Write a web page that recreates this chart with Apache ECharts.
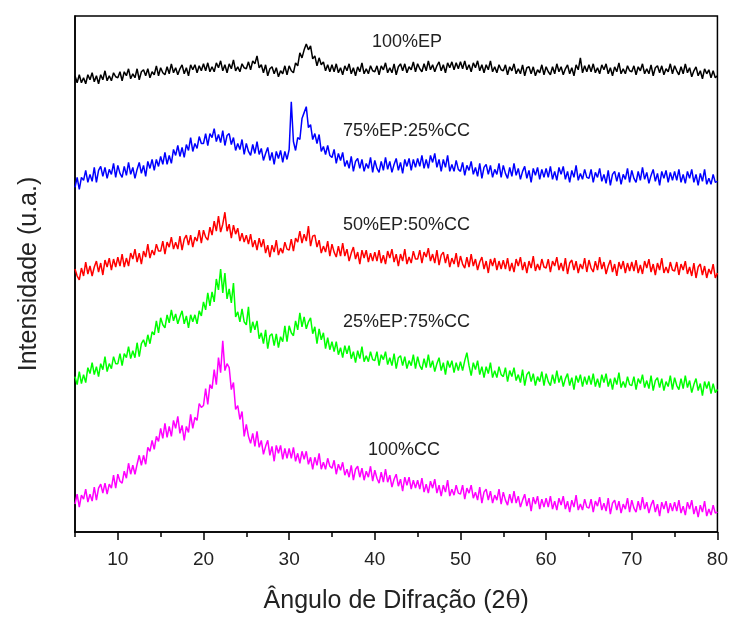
<!DOCTYPE html>
<html>
<head>
<meta charset="utf-8">
<script src="https://cdn.jsdelivr.net/npm/echarts@6/dist/echarts.min.js"></script>
<style>
  html, body { margin: 0; padding: 0; background: #fff; }
  #chart { width: 731px; height: 619px; }
</style>
</head>
<body>
<div id="chart"></div>
<script>
// 2θ from 5° to 80°, one reading every 0.25°
const angleStart = 5;
const angleStep = 0.25;

const majorTicks = [10, 20, 30, 40, 50, 60, 70, 80];
const minorTicks = [5, 15, 25, 35, 45, 55, 65, 75];

const seriesNames = ['100%EP', '75%EP:25%CC', '50%EP:50%CC', '25%EP:75%CC', '100%CC'];
const seriesColors = ['#000000', '#0000ff', '#ff0000', '#00ff00', '#ff00ff'];
// vertical shift of each stacked pattern
const curveOffsets = [450, 345, 255, 140, 25];

const ep100 = [
  8,1,9,1,6,0,9,4,11,2,8,0,9,4,13,3,8,3,11,7,
  6,12,3,12,8,15,5,10,6,15,4,12,14,8,15,6,12,9,18,8,
  16,11,9,17,10,20,11,16,9,15,19,10,16,8,19,14,19,11,18,13,
  20,13,21,12,17,12,21,16,23,13,19,11,20,15,24,13,17,12,20,16,
  15,22,14,23,20,28,16,19,11,19,8,15,17,10,16,7,13,10,18,9,
  18,13,11,21,18,31,26,34,40,34,38,25,28,18,26,19,22,13,19,12,
  19,12,20,11,16,9,18,13,20,10,16,8,17,12,21,10,15,10,18,13,
  12,18,9,18,14,21,11,16,11,20,9,17,20,13,20,11,17,14,22,12,
  20,15,12,20,13,23,14,19,12,18,22,13,19,11,21,16,22,14,21,15,
  22,15,23,14,19,12,21,16,23,13,19,11,19,14,23,12,17,11,19,14,
  13,19,9,17,13,20,10,15,10,19,8,16,17,10,17,8,14,11,19,9,
  17,12,9,17,10,20,12,17,9,15,19,10,16,8,19,14,26,11,18,12,
  19,12,20,11,16,10,19,14,20,10,16,8,17,12,21,10,15,10,18,13,
  12,18,9,17,13,20,10,15,10,19,8,16,18,11,18,9,15,12,20,10,
  18,13,9,17,10,20,11,16,7,13,17,8,13,5,15,10,14,6,13,6,
  8
];

const ep75cc25 = [
  1,11,-1,11,8,18,6,14,7,21,6,18,22,12,21,10,19,14,25,11,
  23,15,11,22,13,26,14,21,10,19,26,15,23,12,27,20,29,18,29,22,
  32,24,36,24,33,25,39,33,43,32,41,31,44,38,51,37,45,40,52,45,
  45,55,43,55,51,60,47,54,46,58,43,53,55,44,51,38,45,39,49,34,
  45,37,33,44,35,47,34,40,28,35,41,28,36,24,37,30,38,26,37,29,
  39,87,47,38,51,49,70,76,82,61,64,49,55,45,54,37,42,34,43,33,
  31,39,25,35,28,36,22,28,20,32,17,27,30,20,29,17,25,20,31,16,
  28,20,16,27,18,31,19,27,16,24,30,18,26,15,29,22,30,18,29,21,
  30,22,33,20,29,20,33,26,35,21,29,17,29,21,33,17,24,17,28,19,
  17,26,13,23,18,27,14,21,12,25,10,21,24,14,23,11,19,14,25,11,
  23,15,10,21,12,25,13,20,9,17,22,10,18,6,20,13,21,9,19,11,
  20,11,22,9,17,8,21,14,22,9,17,6,18,11,23,8,15,9,19,11,
  10,19,6,16,11,20,7,14,5,18,3,14,17,7,16,4,14,9,20,6,
  18,10,6,17,8,21,9,16,5,13,19,7,15,3,17,10,18,6,16,8,
  17,8,19,6,14,5,17,10,19,6,14,3,15,7,19,4,10,4,14,6,
  7
];

const ep50cc50 = [
  9,2,-2,10,2,16,4,12,2,11,17,6,15,3,18,11,20,8,19,11,
  21,12,24,11,20,12,25,19,29,16,25,14,27,21,34,20,28,23,34,27,
  27,37,24,36,31,41,29,36,29,42,28,39,43,33,43,31,41,37,48,35,
  48,41,38,51,43,57,47,62,46,54,66,47,54,40,53,44,50,37,45,36,
  43,34,44,31,38,28,40,31,39,25,33,21,33,26,38,23,30,25,36,29,
  28,39,27,40,36,47,35,44,37,52,32,42,43,31,38,25,32,26,37,22,
  34,26,21,32,22,35,22,29,17,25,31,19,26,14,28,20,28,16,25,17,
  26,17,28,15,23,14,27,20,29,16,24,12,24,17,29,14,21,15,27,19,
  19,28,15,26,21,30,17,24,15,28,13,23,26,15,24,11,20,14,25,11,
  22,14,10,21,11,24,12,19,8,16,21,9,17,5,19,12,20,8,17,9,
  18,9,20,7,15,6,19,12,21,8,16,5,17,10,22,7,14,8,19,11,
  10,19,6,17,12,21,8,15,7,20,4,15,18,8,17,5,14,9,20,6,
  18,10,6,17,8,21,9,16,4,12,18,6,14,2,16,9,17,5,15,7,
  16,7,18,5,13,4,17,10,19,6,14,3,15,8,20,5,11,5,16,8,
  7,16,3,14,8,17,4,11,2,15,0,11,14,3,12,0,9,4,14,0,
  5
];

const ep25cc75 = [
  16,8,21,9,18,10,25,19,30,18,26,16,29,23,36,21,29,24,36,29,
  29,39,27,39,35,46,34,42,35,50,36,49,53,46,58,49,61,58,72,60,
  75,68,65,78,70,83,72,79,69,76,82,69,77,65,78,71,78,69,82,77,
  91,83,100,87,101,91,114,103,124,100,120,94,104,90,110,76,81,71,84,71,
  68,86,60,71,63,72,54,60,49,63,44,57,59,47,59,45,56,51,67,51,
  67,60,57,72,63,80,66,76,64,71,75,59,66,49,64,53,60,44,55,43,
  51,41,51,38,45,35,47,39,47,34,41,30,42,34,46,31,37,31,41,33,
  32,41,27,38,33,41,28,35,27,39,24,35,37,27,36,24,32,27,38,24,
  36,27,23,34,25,38,25,32,21,29,35,22,30,18,32,25,32,20,30,22,
  31,22,32,40,27,17,30,23,32,18,26,15,26,19,30,15,22,15,26,18,
  16,25,11,22,16,25,12,18,10,23,7,18,21,11,19,7,16,11,21,7,
  19,11,7,18,9,22,10,17,6,14,19,7,15,3,17,10,18,6,16,8,
  17,8,19,6,14,5,18,10,19,6,14,3,15,8,20,5,11,5,16,8,
  7,16,3,14,9,18,5,12,4,17,2,12,15,5,14,2,11,6,17,3,
  15,7,3,14,4,17,5,12,0,8,14,2,9,-3,11,4,11,-1,9,0,
  3
];

const cc100 = [
  3,13,0,12,8,18,5,13,6,20,7,19,23,14,24,13,23,19,32,19,
  33,26,24,36,29,44,33,42,33,43,52,42,52,43,60,56,67,58,71,66,
  79,69,84,70,81,71,87,79,91,74,82,67,81,75,93,79,90,87,104,100,
  102,119,103,123,119,138,123,150,135,167,137,144,140,118,125,98,102,88,96,71,
  83,71,64,74,61,76,60,67,53,61,67,52,61,46,62,54,62,48,59,49,
  59,49,60,46,54,44,56,48,56,43,50,38,50,42,54,38,45,38,49,41,
  39,47,33,43,37,45,32,38,30,42,27,38,41,30,39,27,36,30,41,26,
  37,29,24,35,25,38,25,32,20,28,33,21,28,16,30,22,30,18,27,19,
  27,18,29,15,23,14,26,19,28,14,22,11,22,15,27,11,18,12,22,14,
  13,22,8,19,14,22,9,15,7,20,4,15,18,7,16,4,12,7,18,3,
  15,7,2,13,4,16,4,11,0,7,13,1,9,-4,10,3,11,-2,8,0,
  9,0,11,-2,6,-3,9,2,11,-2,6,-5,7,0,12,-3,3,-3,8,0,
  -1,8,-5,6,1,10,-3,4,-4,9,-7,4,7,-3,6,-6,3,-2,9,-5,
  7,-1,-5,6,-3,10,-2,5,-6,2,7,-5,3,-9,5,-2,6,-6,4,-4,
  5,-4,7,-6,1,-8,5,-2,7,-7,1,-10,2,-5,6,-9,-2,-8,2,-6,
  -5
];

const allCurves = [ep100, ep75cc25, ep50cc50, ep25cc75, cc100];

const chart = echarts.init(document.getElementById('chart'), null, { renderer: 'canvas' });

const fontFamily = '"Liberation Sans", Arial, sans-serif';

let series = allCurves.map((vals, k) => ({
  name: seriesNames[k],
  type: 'line',
  showSymbol: false,
  symbol: 'none',
  silent: true,
  lineStyle: { width: 1.5, color: seriesColors[k] },
  data: vals.map((v, i) => [angleStart + i * angleStep, v + curveOffsets[k]]),
}));

// text labels next to the patterns
const labelSpots = [
  [372, 42], [343, 131], [343, 225], [343, 322], [368, 450],
];

let option = {
  animation: false,
  backgroundColor: '#fff',
  grid: {
    left: 75,
    right: 13,
    top: 16,
    bottom: 85,
    show: true,
    borderColor: '#000',
    borderWidth: 1.5,
  },
  xAxis: [
    {
      type: 'value',
      min: 5,
      max: 80,
      position: 'bottom',
      axisLine: { show: true, lineStyle: { color: '#000', width: 1.5 } },
      splitLine: { show: false },
      axisTick: {
        show: true,
        length: 8,
        customValues: majorTicks,
        lineStyle: { color: '#000', width: 1.5 },
      },
      axisLabel: {
        show: true,
        customValues: majorTicks,
        margin: 18,
        color: '#222',
        fontSize: 19,
        fontFamily: fontFamily,
      },
      name: 'Ângulo de Difração (2{t|θ})',
      nameLocation: 'middle',
      nameGap: 57,
      nameTextStyle: {
        color: '#222',
        fontSize: 25,
        fontFamily: fontFamily,
        rich: {
          t: { fontSize: 25, fontFamily: '"DejaVu Serif", serif', color: '#222' },
        },
      },
    },
    {
      // minor ticks half way between the labelled ones
      type: 'value',
      min: 5,
      max: 80,
      position: 'bottom',
      axisLine: { show: false },
      splitLine: { show: false },
      axisTick: {
        show: true,
        length: 5,
        customValues: minorTicks,
        lineStyle: { color: '#000', width: 1.5 },
      },
      axisLabel: { show: false },
    },
  ],
  yAxis: {
    type: 'value',
    min: 0,
    max: 518,
    axisLine: { show: true, lineStyle: { color: '#000', width: 1.5 } },
    axisTick: { show: false },
    axisLabel: { show: false },
    splitLine: { show: false },
    name: 'Intensidade (u.a.)',
    nameLocation: 'middle',
    nameGap: 33,
    nameTextStyle: { color: '#222', fontSize: 25, fontFamily: fontFamily },
  },
  graphic: seriesNames.map((n, k) => ({
    type: 'text',
    x: labelSpots[k][0],
    y: labelSpots[k][1],
    silent: true,
    style: {
      text: n,
      fill: '#222',
      font: '18px ' + fontFamily,
      textVerticalAlign: 'middle',
    },
  })),
  series: series,
};

chart.setOption(option);
window.addEventListener('resize', () => {
  chart.resize();
});
</script>
</body>
</html>
